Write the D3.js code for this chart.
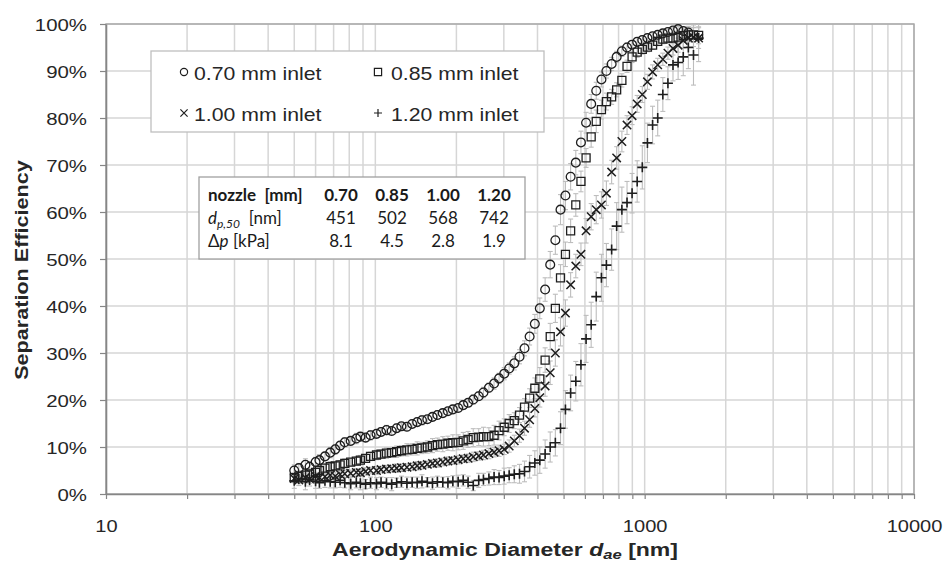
<!DOCTYPE html>
<html>
<head>
<meta charset="utf-8">
<script src="https://cdn.jsdelivr.net/npm/d3@7"></script>
<style>
  body { margin: 0; background: #fff; }
  svg { display: block; }
</style>
</head>
<body>
<div id="chart"></div>
<script>
const WIDTH = 944;
const HEIGHT = 563;
const PLOT = { left: 106, right: 914, top: 24, bottom: 494 };
const GRID_COLOR = "#d6d6d6";
const AXIS_COLOR = "#868686";
const FRAME_COLOR = "#a6a6a6";
const INK = "#1e1e1e";
const ERR_COLOR = "#bdbdbd";
const TEXT_STRETCH = 1.2;

// aerodynamic diameter [nm], shared by all four runs
const diameters = [50, 52, 55, 57, 60, 62, 65, 68, 71, 74, 77, 81, 85, 88, 92, 96,
  101, 105, 110, 115, 120, 125, 131, 137, 143, 149, 156, 163, 170, 178, 186, 194,
  203, 212, 221, 231, 242, 252, 264, 276, 288, 301, 314, 328, 343, 358, 374, 391,
  408, 427, 446, 466, 487, 508, 531, 555, 580, 606, 633, 661, 691, 721, 754, 787,
  823, 860, 898, 938, 980, 1024, 1070, 1118, 1168, 1220, 1274, 1331, 1391, 1453, 1518, 1586];

// separation efficiency [%]
const eff070 = [5.0, 5.5, 6.2, 5.8, 6.8, 7.2, 8.0, 8.8, 9.5, 10.3, 11.0, 11.3, 11.8, 12.2, 12.0, 12.5,
  12.8, 13.2, 13.6, 13.4, 14.0, 14.4, 14.3, 14.9, 15.3, 15.7, 15.9, 16.4, 16.8, 17.2, 17.6, 18.0,
  18.3, 18.9, 19.4, 20.1, 20.8, 21.6, 22.6, 23.5, 24.6, 25.6, 26.7, 27.8, 29.2, 31.0, 33.5, 36.2,
  39.5, 43.5, 48.8, 54.0, 60.5, 63.5, 67.5, 70.5, 74.8, 79.0, 83.0, 85.8, 88.2, 90.0, 91.5, 93.0,
  94.2, 95.0, 95.6, 96.2, 96.6, 97.0, 97.4, 97.7, 98.0, 98.3, 98.6, 98.9, 98.5, 98.2, null, null];
const eff085 = [3.5, 3.8, 4.0, 4.3, 4.6, 5.0, 5.5, 5.8, 6.0, 6.2, 6.5, 6.8, 7.0, 7.2, 7.6, 8.0,
  8.3, 8.5, 8.7, 8.8, 9.0, 9.2, 9.4, 9.5, 9.7, 9.8, 10.0, 10.3, 10.5, 10.6, 10.8, 10.9,
  11.0, 11.3, 11.6, 12.0, 12.1, 12.2, 12.2, 12.5, 13.5, 14.2, 15.0, 15.6, 16.8, 18.5, 20.4, 22.5,
  24.5, 28.5, 33.5, 39.5, 46.0, 51.0, 56.0, 61.5, 66.5, 71.5, 76.0, 79.3, 81.8, 83.5, 84.5, 86.0,
  88.0, 91.0, 93.0, 94.0, 94.6, 95.1, 95.5, 96.3, 96.8, 97.0, 97.0, 97.2, 97.5, 97.7, 97.7, 97.6];
const eff100 = [3.3, 3.0, 3.5, 3.2, 3.8, 3.5, 3.7, 4.0, 3.8, 4.2, 4.3, 4.4, 4.6, 4.5, 4.8, 5.0,
  5.0, 5.2, 5.3, 5.4, 5.5, 5.6, 5.7, 5.8, 6.0, 6.1, 6.3, 6.5, 6.6, 6.8, 7.0, 7.1,
  7.3, 7.5, 7.6, 7.9, 8.1, 8.3, 8.6, 8.9, 9.2, 9.5, 10.2, 11.3, 12.4, 14.0, 15.8, 18.2,
  20.5, 23.0, 25.8, 30.0, 34.5, 38.5, 44.5, 48.5, 51.0, 56.0, 59.0, 60.5, 61.5, 64.0, 68.5, 71.5,
  75.0, 78.5, 80.5, 83.0, 85.0, 87.7, 89.8, 91.3, 92.5, 93.8, 94.8, 95.5, 96.5, 97.0, 97.2, 97.0];
const eff120 = [2.8, 3.2, 2.6, 3.0, 2.7, 2.4, 2.8, 2.6, 2.5, 2.9, 2.4, 2.2, 2.5, 2.3, 2.1, 2.4,
  2.2, 2.5, 2.3, 2.1, 2.4, 2.6, 2.3, 2.5, 2.4, 2.7, 2.5, 2.3, 2.6, 2.5, 2.4, 2.7,
  2.6, 2.9, 2.5, 1.8, 2.9, 3.1, 3.3, 3.6, 3.5, 3.8, 4.0, 4.2, 4.3, 4.8, 5.8, 6.6,
  7.2, 8.5, 10.0, 10.9, 14.0, 18.0, 21.5, 24.0, 27.5, 33.0, 36.0, 42.0, 46.0, 48.7, 52.0, 57.0,
  60.5, 62.0, 64.0, 66.5, 69.5, 74.7, 78.5, 80.0, 85.0, 87.4, 91.3, 91.8, 93.0, 95.0, 93.4, 97.0];

// standard deviation [%] shown as error bars
const err070 = [1.2, 1.0, 1.3, 1.1, 1.0, 1.2, 0.9, 1.1, 1.0, 0.8, 1.0, 0.9, 1.1, 0.8, 0.9, 1.0,
  0.8, 0.9, 1.0, 0.8, 0.9, 0.7, 0.9, 0.8, 0.8, 1.0, 0.7, 0.8, 0.9, 0.8, 0.7, 0.9,
  0.8, 0.9, 0.8, 1.0, 0.9, 1.1, 1.0, 1.2, 1.1, 1.3, 1.2, 1.4, 1.5, 1.6, 1.8, 2.0,
  2.2, 2.5, 2.8, 3.0, 3.2, 3.0, 2.8, 2.6, 2.4, 2.2, 2.0, 1.8, 1.6, 1.5, 1.4, 1.2,
  1.1, 1.0, 0.9, 0.9, 0.8, 0.8, 0.7, 0.7, 0.7, 0.6, 0.6, 0.6, 0.7, 0.8, null, null];
const err085 = [1.0, 1.1, 0.9, 1.0, 0.8, 1.0, 0.9, 1.1, 0.8, 0.9, 1.0, 0.8, 0.9, 1.0, 0.8, 0.9,
  1.0, 0.9, 1.1, 1.0, 1.2, 1.1, 1.3, 1.2, 1.4, 1.2, 1.3, 1.5, 1.4, 1.6, 1.5, 1.7,
  1.6, 1.8, 1.7, 1.9, 1.8, 2.0, 1.9, 2.1, 2.0, 1.8, 1.9, 1.7, 1.6, 1.8, 2.0, 2.2,
  2.4, 2.6, 2.8, 3.0, 2.8, 2.6, 2.5, 2.4, 2.2, 2.0, 2.2, 2.4, 2.0, 1.8, 1.6, 1.5,
  1.4, 1.3, 1.2, 1.1, 1.0, 1.0, 0.9, 0.9, 1.0, 1.1, 1.2, 1.3, 1.4, 1.5, 1.6, 1.8];
const err100 = [0.9, 0.8, 1.0, 0.9, 0.8, 0.9, 0.7, 0.8, 0.9, 0.7, 0.8, 0.7, 0.8, 0.7, 0.8, 0.7,
  0.8, 0.7, 0.8, 0.7, 0.9, 0.8, 0.7, 0.8, 0.9, 0.8, 0.7, 0.8, 0.9, 0.8, 0.9, 0.8,
  0.9, 0.8, 0.9, 1.0, 0.9, 1.0, 1.1, 1.0, 1.2, 1.1, 1.3, 1.2, 1.4, 1.5, 1.6, 1.8,
  2.0, 2.2, 2.5, 2.8, 3.0, 2.8, 2.6, 2.5, 2.4, 2.6, 2.8, 3.0, 2.8, 2.6, 2.5, 2.4,
  2.2, 2.0, 1.9, 1.8, 1.7, 1.6, 1.5, 1.4, 1.3, 1.3, 1.4, 1.5, 1.6, 1.8, 2.0, 2.2];
const err120 = [1.6, 1.4, 1.7, 1.3, 1.5, 1.2, 1.4, 1.3, 1.2, 1.5, 1.1, 1.3, 1.2, 1.4, 1.0, 1.2,
  1.3, 1.1, 1.2, 1.4, 1.0, 1.2, 1.3, 1.1, 1.2, 1.4, 1.0, 1.3, 1.2, 1.1, 1.3, 1.2,
  1.4, 1.2, 1.3, 1.1, 1.5, 1.3, 1.4, 1.6, 1.5, 1.7, 1.6, 1.8, 2.0, 2.2, 2.4, 2.6,
  2.8, 3.0, 3.2, 2.8, 3.5, 4.0, 3.8, 4.2, 4.5, 5.0, 4.8, 5.2, 5.0, 4.6, 4.4, 5.0,
  4.8, 4.5, 4.2, 4.4, 4.6, 4.2, 4.0, 3.8, 3.6, 3.5, 3.4, 3.6, 4.0, 4.5, 6.4, 5.0];

const seriesNames = ["0.70 mm inlet", "0.85 mm inlet", "1.00 mm inlet", "1.20 mm inlet"];
const seriesSymbols = ["circle", "square", "times", "plus"];

// inset table
const nozzles = ["0.70", "0.85", "1.00", "1.20"];
const dp50 = ["451", "502", "568", "742"];
const pressureDrop = ["8.1", "4.5", "2.8", "1.9"];

const xTickLabels = [10, 100, 1000, 10000];
const yTicks = [0, 10, 20, 30, 40, 50, 60, 70, 80, 90, 100];

const series = seriesNames.map((name, i) => ({
  name,
  symbol: seriesSymbols[i],
  values: [eff070, eff085, eff100, eff120][i],
  errors: [err070, err085, err100, err120][i]
}));

const markerTypes = {
  circle: { draw(c, r) { c.moveTo(r, 0); c.arc(0, 0, r, 0, 2 * Math.PI); } },
  square: { draw(c, r) { c.rect(-r, -r, 2 * r, 2 * r); } },
  times: { draw(c, r) { c.moveTo(-r, -r); c.lineTo(r, r); c.moveTo(-r, r); c.lineTo(r, -r); } },
  plus: { draw(c, r) { c.moveTo(-r, 0); c.lineTo(r, 0); c.moveTo(0, -r); c.lineTo(0, r); } }
};
const markerSize = { circle: 4.4, square: 4.0, times: 4.2, plus: 5.0 };
const markerWidth = { circle: 1.3, square: 1.3, times: 1.5, plus: 1.6 };

const x = d3.scaleLog().domain([10, 10000]).range([PLOT.left, PLOT.right]);
const y = d3.scaleLinear().domain([0, 100]).range([PLOT.bottom, PLOT.top]);

const svg = d3.select("#chart").append("svg")
  .attr("width", WIDTH)
  .attr("height", HEIGHT)
  .attr("font-family", "'Liberation Sans', Arial, sans-serif");

svg.append("defs").append("clipPath").attr("id", "plot-clip")
  .append("rect")
  .attr("x", PLOT.left).attr("y", PLOT.top)
  .attr("width", PLOT.right - PLOT.left).attr("height", PLOT.bottom - PLOT.top);

// grid
svg.append("g")
  .selectAll("line")
  .data(x.ticks())
  .join("line")
  .attr("x1", d => x(d)).attr("x2", d => x(d))
  .attr("y1", PLOT.top).attr("y2", PLOT.bottom)
  .attr("stroke", GRID_COLOR).attr("stroke-width", 1.5);

svg.append("g")
  .selectAll("line")
  .data(yTicks)
  .join("line")
  .attr("x1", PLOT.left).attr("x2", PLOT.right)
  .attr("y1", d => y(d)).attr("y2", d => y(d))
  .attr("stroke", GRID_COLOR).attr("stroke-width", 1.5);

svg.append("rect")
  .attr("x", PLOT.left).attr("y", PLOT.top)
  .attr("width", PLOT.right - PLOT.left).attr("height", PLOT.bottom - PLOT.top)
  .attr("fill", "none").attr("stroke", FRAME_COLOR).attr("stroke-width", 1.4);

// axes
svg.append("g")
  .attr("transform", `translate(${PLOT.left},0)`)
  .call(d3.axisLeft(y).tickValues(yTicks).tickFormat(d => d + "%").tickSize(6).tickSizeOuter(0))
  .attr("font-family", null)
  .call(g => g.select(".domain").attr("stroke", AXIS_COLOR).attr("stroke-width", 1.6))
  .call(g => g.selectAll(".tick line").attr("stroke", AXIS_COLOR).attr("stroke-width", 1.2))
  .call(g => g.selectAll(".tick text")
    .attr("x", 0).attr("dy", null)
    .attr("transform", `translate(-19,6) scale(${TEXT_STRETCH},1)`)
    .attr("font-size", 17).attr("fill", "#262626"));

svg.append("g")
  .attr("transform", `translate(0,${PLOT.bottom})`)
  .call(d3.axisBottom(x).tickValues(x.ticks()).tickSize(5).tickSizeOuter(0)
    .tickFormat(d => xTickLabels.includes(d) ? d : ""))
  .attr("font-family", null)
  .call(g => g.select(".domain").attr("stroke", AXIS_COLOR).attr("stroke-width", 1.6))
  .call(g => g.selectAll(".tick line").attr("stroke", AXIS_COLOR).attr("stroke-width", 1.2))
  .call(g => g.selectAll(".tick text")
    .attr("y", 0).attr("dy", null)
    .attr("transform", `translate(0,38) scale(1.18,1)`)
    .attr("font-size", 17).attr("fill", "#262626"));

// error bars, then markers
const points = s => diameters
  .map((d, i) => ({ d, v: s.values[i], e: s.errors[i] }))
  .filter(p => p.v != null);

const errLayer = svg.append("g").attr("clip-path", "url(#plot-clip)")
  .attr("stroke", ERR_COLOR).attr("stroke-width", 1.1);

series.forEach(s => {
  const bars = errLayer.append("g")
    .selectAll("g")
    .data(points(s).filter(p => p.e))
    .join("g")
    .attr("transform", p => `translate(${x(p.d)},0)`);
  bars.append("line")
    .attr("y1", p => y(p.v - p.e)).attr("y2", p => y(p.v + p.e));
  bars.append("line")
    .attr("x1", -2.5).attr("x2", 2.5)
    .attr("y1", p => y(p.v - p.e)).attr("y2", p => y(p.v - p.e));
  bars.append("line")
    .attr("x1", -2.5).attr("x2", 2.5)
    .attr("y1", p => y(p.v + p.e)).attr("y2", p => y(p.v + p.e));
});

series.forEach(s => {
  const sym = d3.symbol().type(markerTypes[s.symbol]).size(markerSize[s.symbol]);
  svg.append("g")
    .selectAll("path")
    .data(points(s))
    .join("path")
    .attr("transform", p => `translate(${x(p.d)},${y(p.v)})`)
    .attr("d", sym)
    .attr("fill", "none")
    .attr("stroke", INK)
    .attr("stroke-width", markerWidth[s.symbol]);
});

// legend
const legend = svg.append("g");
legend.append("rect")
  .attr("x", 151).attr("y", 51).attr("width", 393).attr("height", 81)
  .attr("fill", "#fff").attr("stroke", "#bfbfbf").attr("stroke-width", 1.3);

const legendCols = [184, 378];
const legendRows = [72, 113];
const items = legend.selectAll("g.item")
  .data(series)
  .join("g")
  .attr("class", "item")
  .attr("transform", (s, i) => `translate(${legendCols[i % 2]},${legendRows[Math.floor(i / 2)]})`);
items.append("path")
  .attr("d", s => d3.symbol().type(markerTypes[s.symbol]).size(s.symbol === "plus" ? 4 : 3.6)())
  .attr("fill", "none").attr("stroke", INK).attr("stroke-width", 1.2);
items.append("text")
  .attr("transform", (s, i) => `translate(${i % 2 ? 13 : 10},8) scale(1.18,1)`)
  .attr("font-size", 18).attr("fill", "#262626")
  .text(s => s.name);

// inset table
const table = svg.append("g").attr("font-family", "Lato, 'Open Sans', sans-serif")
  .attr("font-size", 17).attr("fill", "#1a1a1a");
table.append("rect")
  .attr("x", 199).attr("y", 177).attr("width", 326).attr("height", 82)
  .attr("fill", "#fff").attr("stroke", "#a0a0a0").attr("stroke-width", 1.3);

const colX = [341, 392, 443, 494];
const rowY = [201, 224, 247];

table.append("text").attr("x", 208).attr("y", rowY[0]).attr("font-weight", "bold")
  .attr("xml:space", "preserve").text("nozzle  [mm]");
const r2 = table.append("text").attr("x", 208).attr("y", rowY[1]);
r2.append("tspan").attr("font-style", "italic").text("d");
r2.append("tspan").attr("font-style", "italic").attr("font-size", 12).attr("dy", 4).text("p,50");
r2.append("tspan").attr("dy", -4).attr("xml:space", "preserve").text("  [nm]");
const r3 = table.append("text").attr("x", 208).attr("y", rowY[2]);
r3.append("tspan").text("Δ");
r3.append("tspan").attr("font-style", "italic").text("p");
r3.append("tspan").attr("xml:space", "preserve").text(" [kPa]");

[nozzles, dp50, pressureDrop].forEach((row, r) => {
  table.append("g")
    .selectAll("text")
    .data(row)
    .join("text")
    .attr("x", (d, i) => colX[i])
    .attr("y", rowY[r])
    .attr("text-anchor", "middle")
    .attr("font-weight", r === 0 ? "bold" : null)
    .text(d => d);
});

// axis titles
const xTitle = svg.append("text")
  .attr("transform", "translate(505,556) scale(1.28,1)")
  .attr("text-anchor", "middle").attr("font-size", 18).attr("font-weight", "bold")
  .attr("fill", "#262626");
xTitle.append("tspan").text("Aerodynamic Diameter ");
xTitle.append("tspan").attr("font-style", "italic").text("d");
xTitle.append("tspan").attr("font-style", "italic").attr("font-size", 13).attr("dy", 3).text("ae");
xTitle.append("tspan").attr("dy", -3).text(" [nm]");

svg.append("text")
  .attr("transform", `translate(28,270) rotate(-90) scale(${TEXT_STRETCH},1)`)
  .attr("text-anchor", "middle").attr("font-size", 18).attr("font-weight", "bold")
  .attr("fill", "#262626")
  .text("Separation Efficiency");
</script>
</body>
</html>
